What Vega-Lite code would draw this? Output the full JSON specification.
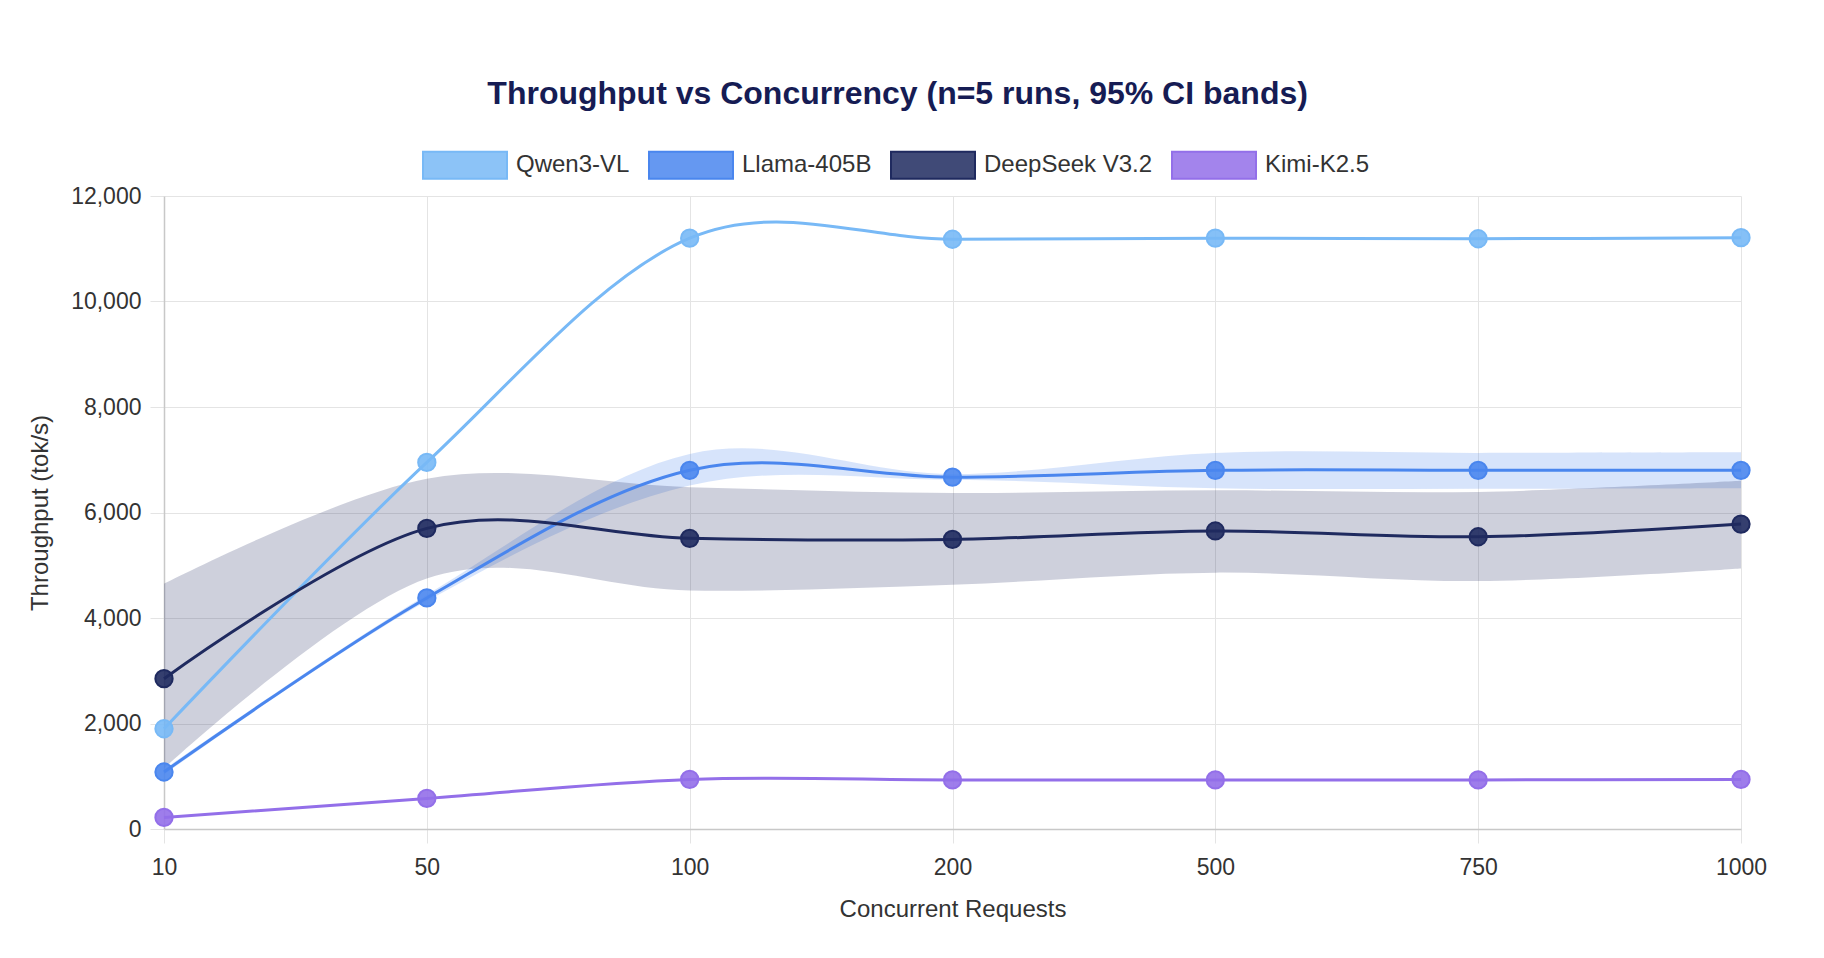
{
  "$schema": "https://vega.github.io/schema/vega-lite/v6.json",
  "width": 1577,
  "height": 633,
  "autosize": {"type": "none"},
  "padding": {"left": 164, "top": 196, "right": 83, "bottom": 129},
  "background": "white",
  "title": {
    "text": "Throughput vs Concurrency (n=5 runs, 95% CI bands)",
    "anchor": "middle",
    "frame": "bounds",
    "font": "Liberation Sans",
    "fontSize": 32,
    "fontWeight": "bold",
    "color": "#161c54",
    "offset": 11
  },
  "data": {
    "values": [
      {"model": "Qwen3-VL", "conc": 10, "tp": 1900},
      {"model": "Qwen3-VL", "conc": 50, "tp": 6950},
      {"model": "Qwen3-VL", "conc": 100, "tp": 11200},
      {"model": "Qwen3-VL", "conc": 200, "tp": 11180},
      {"model": "Qwen3-VL", "conc": 500, "tp": 11200},
      {"model": "Qwen3-VL", "conc": 750, "tp": 11190},
      {"model": "Qwen3-VL", "conc": 1000, "tp": 11210},
      {"model": "Llama-405B", "conc": 10, "tp": 1080, "lo": 1030, "hi": 1130},
      {"model": "Llama-405B", "conc": 50, "tp": 4380, "lo": 4320, "hi": 4440},
      {"model": "Llama-405B", "conc": 100, "tp": 6800, "lo": 6510, "hi": 7110},
      {"model": "Llama-405B", "conc": 200, "tp": 6670, "lo": 6620, "hi": 6730},
      {"model": "Llama-405B", "conc": 500, "tp": 6800, "lo": 6460, "hi": 7130},
      {"model": "Llama-405B", "conc": 750, "tp": 6800, "lo": 6450, "hi": 7130},
      {"model": "Llama-405B", "conc": 1000, "tp": 6800, "lo": 6460, "hi": 7140},
      {"model": "DeepSeek V3.2", "conc": 10, "tp": 2850, "lo": 1150, "hi": 4650},
      {"model": "DeepSeek V3.2", "conc": 50, "tp": 5700, "lo": 4750, "hi": 6640},
      {"model": "DeepSeek V3.2", "conc": 100, "tp": 5510, "lo": 4520, "hi": 6480},
      {"model": "DeepSeek V3.2", "conc": 200, "tp": 5490, "lo": 4630, "hi": 6370},
      {"model": "DeepSeek V3.2", "conc": 500, "tp": 5650, "lo": 4860, "hi": 6420},
      {"model": "DeepSeek V3.2", "conc": 750, "tp": 5540, "lo": 4700, "hi": 6390},
      {"model": "DeepSeek V3.2", "conc": 1000, "tp": 5780, "lo": 4940, "hi": 6600},
      {"model": "Kimi-K2.5", "conc": 10, "tp": 220},
      {"model": "Kimi-K2.5", "conc": 50, "tp": 580},
      {"model": "Kimi-K2.5", "conc": 100, "tp": 940},
      {"model": "Kimi-K2.5", "conc": 200, "tp": 930},
      {"model": "Kimi-K2.5", "conc": 500, "tp": 930},
      {"model": "Kimi-K2.5", "conc": 750, "tp": 930},
      {"model": "Kimi-K2.5", "conc": 1000, "tp": 940}
    ]
  },
  "encoding": {
    "x": {
      "field": "conc",
      "type": "ordinal",
      "sort": [10, 50, 100, 200, 500, 750, 1000],
      "scale": {"type": "point", "padding": 0},
      "axis": {
        "title": "Concurrent Requests",
        "labelAngle": 0,
        "grid": true,
        "tickSize": 14,
        "labelPadding": 13,
        "titlePadding": 18
      }
    },
    "y": {
      "field": "tp",
      "type": "quantitative",
      "scale": {"domain": [0, 12000], "nice": false},
      "axis": {
        "title": "Throughput (tok/s)",
        "values": [0, 2000, 4000, 6000, 8000, 10000, 12000],
        "format": ",d",
        "tickSize": 14,
        "labelPadding": 9,
        "titlePadding": 18
      }
    },
    "color": {
      "field": "model",
      "type": "nominal",
      "scale": {
        "domain": ["Qwen3-VL", "Llama-405B", "DeepSeek V3.2", "Kimi-K2.5"],
        "range": ["#78b9f6", "#4a86ee", "#1f2a5f", "#936fe9"]
      },
      "legend": {
        "orient": "none",
        "legendX": 258,
        "legendY": -74,
        "direction": "horizontal",
        "title": null,
        "padding": 0,
        "symbolType": "M-1,-0.32H1V0.32H-1Z",
        "symbolSize": 7056,
        "labelFont": "Liberation Sans",
        "labelFontSize": 24,
        "labelColor": "#333333",
        "labelLimit": 400,
        "labelOffset": 8,
        "columnPadding": 15,
        "encode": {
          "symbols": {
            "update": {
              "fill": {"scale": "color", "field": "value"},
              "fillOpacity": {"value": 0.85},
              "stroke": {"scale": "color", "field": "value"},
              "strokeWidth": {"value": 2},
              "opacity": {"value": 1}
            }
          }
        }
      }
    }
  },
  "layer": [
    {
      "transform": [{"filter": "isValid(datum.lo)"}],
      "mark": {"type": "area", "interpolate": "cardinal", "tension": 0, "opacity": 0.22},
      "encoding": {
        "y": {
          "field": "lo",
          "type": "quantitative",
          "scale": {"domain": [0, 12000], "nice": false},
          "axis": {
            "title": "Throughput (tok/s)",
            "values": [0, 2000, 4000, 6000, 8000, 10000, 12000],
            "format": ",d",
            "tickSize": 14,
            "labelPadding": 9,
            "titlePadding": 18
          }
        },
        "y2": {"field": "hi"}
      }
    },
    {
      "mark": {"type": "line", "interpolate": "cardinal", "tension": 0, "strokeWidth": 3}
    },
    {
      "mark": {"type": "circle", "size": 300, "opacity": 0.9}
    },
    {
      "mark": {"type": "point", "shape": "circle", "filled": false, "size": 300, "strokeWidth": 2, "opacity": 1}
    }
  ],
  "config": {
    "font": "Liberation Sans",
    "view": {"stroke": null},
    "axis": {
      "labelFont": "Liberation Sans",
      "labelFontSize": 23,
      "labelColor": "#333333",
      "titleFont": "Liberation Sans",
      "titleFontSize": 24,
      "titleFontWeight": "normal",
      "titleColor": "#333333",
      "gridColor": "#e4e4e4",
      "tickColor": "#e4e4e4",
      "domainColor": "#c8c8c8",
      "domainWidth": 1.5
    }
  }
}
